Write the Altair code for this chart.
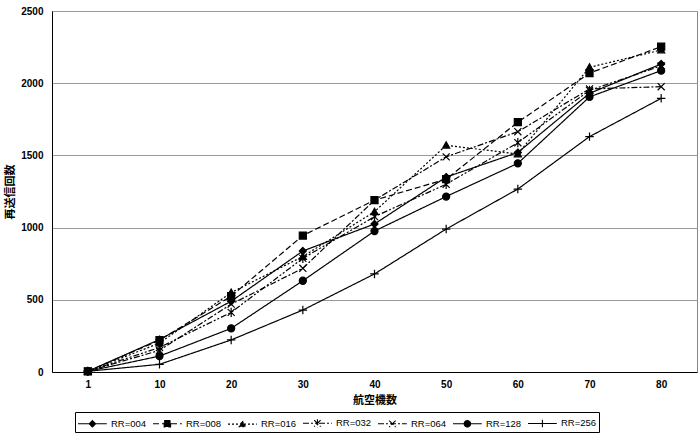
import altair as alt
import pandas as pd

aircraft = [1, 10, 20, 30, 40, 50, 60, 70, 80]
series_names = ["RR=004", "RR=008", "RR=016", "RR=032", "RR=064", "RR=128", "RR=256"]
rr004 = [5, 225, 490, 838, 1025, 1350, 1520, 1930, 2133]
rr008 = [5, 220, 525, 945, 1190, 1335, 1730, 2070, 2253]
rr016 = [5, 200, 550, 800, 1110, 1570, 1510, 2110, 2230]
rr032 = [5, 170, 413, 787, 1076, 1300, 1588, 1950, 2120]
rr064 = [5, 150, 470, 718, 1190, 1490, 1664, 1960, 1976]
rr128 = [5, 110, 302, 632, 976, 1215, 1445, 1905, 2087]
rr256 = [5, 53, 222, 429, 679, 990, 1267, 1630, 1895]

all_values = [rr004, rr008, rr016, rr032, rr064, rr128, rr256]
rows = []
for name, vals in zip(series_names, all_values):
    for a, v in zip(aircraft, vals):
        rows.append({"aircraft": a, "count": v, "series": name})
df = pd.DataFrame(rows)

dashes = [[1, 0], [6, 3], [2, 2], [6, 2, 2, 2, 2, 2], [6, 2, 2, 2], [1, 0], [1, 0]]

marker_paths = [
    "M0,-1L1,0L0,1L-1,0Z",
    "M-1,-1H1V1H-1Z",
    "M0,-1L1,0.8H-1Z",
    "M-1,-1L1,1M1,-1L-1,1M0,-1.3V1.3",
    "M-1,-1L1,1M1,-1L-1,1",
    "circle",
    "M-1.2,0H1.2M0,-1.2V1.2",
]

# legend symbols: a line with the marker at its middle (drawn to the right of the nominal box)
c = 0.8
s = 0.4
legend_paths = [
    f"M-1,0H2.6M{c},-{s}L{c+s},0L{c},{s}L{c-s},0Z",
    f"M-1,0H2.6M{c-s},-{s}H{c+s}V{s}H{c-s}Z",
    f"M-1,0H2.6M{c},-{s}L{c+s},{s*0.8}H{c-s}Z",
    f"M-1,0H2.6M{c-s},-{s}L{c+s},{s}M{c+s},-{s}L{c-s},{s}M{c},-{s*1.3}V{s*1.3}",
    f"M-1,0H2.6M{c-s},-{s}L{c+s},{s}M{c+s},-{s}L{c-s},{s}",
    f"M-1,0H2.6M{c+s},0A{s},{s} 0 1,1 {c-s},0A{s},{s} 0 1,1 {c+s},0Z",
    f"M-1,0H2.6M{c},-{s*1.2}V{s*1.2}",
]

xenc = alt.X(
    "aircraft:O",
    scale=alt.Scale(type="point", padding=0.5),
    axis=alt.Axis(
        title="航空機数", labelAngle=0, ticks=False, labelPadding=7,
        domainColor="black", titlePadding=5,
    ),
)
yenc = alt.Y(
    "count:Q",
    scale=alt.Scale(domain=[0, 2500], nice=False),
    axis=alt.Axis(
        title="再送信回数", values=[0, 500, 1000, 1500, 2000, 2500], format="d", ticks=False,
        labelPadding=9, domainColor="black", gridColor="#9a9a9a", titlePadding=5,
    ),
)

lines = alt.Chart(df).mark_line(color="black", strokeWidth=1.2).encode(
    x=xenc, y=yenc,
    detail="series:N",
    strokeDash=alt.StrokeDash("series:N", scale=alt.Scale(domain=series_names, range=dashes), legend=None),
)

points = alt.Chart(df).mark_point(filled=True, color="black", stroke="black", strokeWidth=1.2, opacity=1, size=50).encode(
    x=xenc, y=yenc,
    shape=alt.Shape("series:N", scale=alt.Scale(domain=series_names, range=marker_paths), legend=None),
)

leg = alt.Legend(
    title=None, orient="none", legendX=23, legendY=401,
    direction="horizontal", columns=7, symbolSize=256,
    symbolStrokeWidth=1.1, symbolOpacity=1,
    labelFont="Liberation Sans", labelFontSize=9.5, labelColor="black",
    labelOffset=16, columnPadding=3, strokeColor="black", padding=2,
    cornerRadius=0,
)

blacks = ["black"] * len(series_names)

legend_layer = alt.Chart(df).transform_filter("false").mark_point(
    filled=True, opacity=1, strokeWidth=1.1
).encode(
    x=xenc, y=yenc,
    shape=alt.Shape("series:N", scale=alt.Scale(domain=series_names, range=legend_paths), legend=leg),
    strokeDash=alt.StrokeDash("series:N", scale=alt.Scale(domain=series_names, range=dashes), legend=leg),
    fill=alt.Fill("series:N", scale=alt.Scale(domain=series_names, range=blacks), legend=leg),
    stroke=alt.Stroke("series:N", scale=alt.Scale(domain=series_names, range=blacks), legend=leg),
)

chart = alt.layer(lines, points, legend_layer).resolve_scale(
    shape="independent", strokeDash="independent", fill="independent", stroke="independent"
).properties(
    width=645, height=361,
    autosize=alt.AutoSizeParams(type="none"),
    padding={"left": 52, "top": 11, "right": 3, "bottom": 66},
).configure_view(
    stroke="#888888"
).configure_axis(
    labelFont="Liberation Sans", labelFontSize=10, labelColor="black", labelFontWeight="bold",
    titleFont="Noto Sans CJK JP", titleFontSize=11, titleColor="black", titleFontWeight="bold",
)

chart.save("out.html", embed_options={"renderer": "svg", "actions": False})
